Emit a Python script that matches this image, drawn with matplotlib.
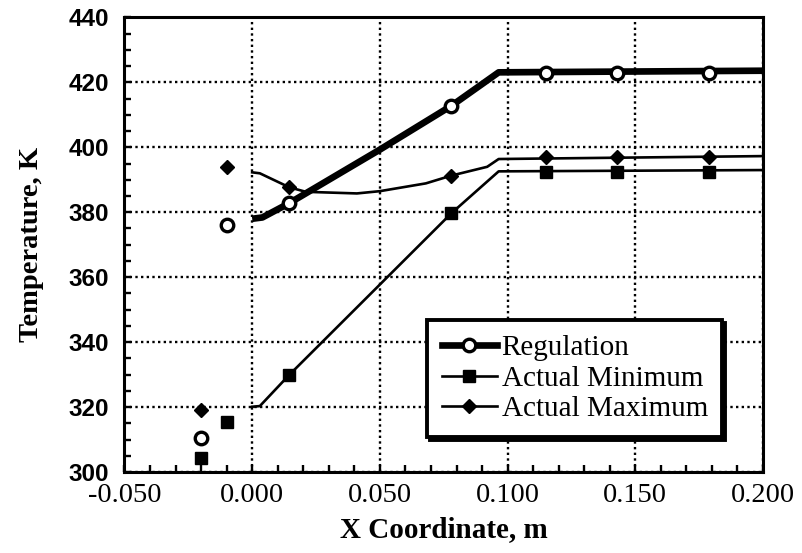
import matplotlib
matplotlib.use("Agg")
import matplotlib.pyplot as plt
from matplotlib.lines import Line2D
from matplotlib.ticker import MultipleLocator, FormatStrFormatter

# Temperature profiles along the X coordinate
reg_x = [0.0, 0.004, 0.0145, 0.050, 0.078, 0.0965, 0.200]
reg_y = [378.0, 378.4, 382.8, 399.3, 412.8, 423.1, 423.6]

min_x = [0.0, 0.003, 0.0145, 0.078, 0.0965, 0.200]
min_y = [320.1, 320.3, 329.9, 379.7, 392.6, 393.0]

max_x = [0.0, 0.003, 0.0145, 0.021, 0.041, 0.050, 0.068, 0.078, 0.092, 0.0965, 0.200]
max_y = [392.3, 392.0, 387.7, 386.3, 385.8, 386.5, 388.9, 391.3, 394.0, 396.4, 397.3]

# Marker positions
mark_x = [-0.020, -0.010, 0.0145, 0.078, 0.115, 0.143, 0.179]
reg_mark_y = [310.5, 376.1, 382.8, 412.8, 423.0, 423.0, 423.0]
min_mark_y = [304.2, 315.3, 329.9, 379.7, 392.4, 392.5, 392.5]
max_mark_y = [319.1, 393.9, 387.7, 391.3, 397.1, 397.1, 397.1]

labels = ["Regulation", "Actual Minimum", "Actual Maximum"]

serif = ["Liberation Serif", "DejaVu Serif"]
sans = ["Liberation Sans", "DejaVu Sans"]

fig = plt.figure(figsize=(8.02, 5.53), dpi=100)
ax = fig.add_axes([0.1552, 0.1465, 0.7962, 0.8219])

ax.set_xlim(-0.05, 0.2)
ax.set_ylim(300, 440)

# grid
ax.xaxis.set_major_locator(MultipleLocator(0.05))
ax.xaxis.set_minor_locator(MultipleLocator(0.01))
ax.yaxis.set_major_locator(MultipleLocator(20))
ax.yaxis.set_minor_locator(MultipleLocator(5))
ax.xaxis.set_major_formatter(FormatStrFormatter("%.3f"))
ax.grid(True, which="major", color="black", linestyle=(0, (1, 1.4)), linewidth=1.7)
ax.set_axisbelow(True)

# curves
ax.plot(reg_x, reg_y, color="black", lw=4.8, solid_capstyle="butt", zorder=3)
ax.plot(min_x, min_y, color="black", lw=1.9, zorder=3)
ax.plot(max_x, max_y, color="black", lw=1.9, zorder=3)

# markers
ax.plot(mark_x, reg_mark_y, ls="none", marker="o", ms=9, mfc="white",
        mec="black", mew=2.4, zorder=4)
ax.plot(mark_x, min_mark_y, ls="none", marker="s", ms=9, mfc="black",
        mec="black", zorder=4)
ax.plot(mark_x, max_mark_y, ls="none", marker="D", ms=7.5, mfc="black",
        mec="black", zorder=4)

for s in ax.spines.values():
    s.set_linewidth(2.2)

ax.tick_params(which="both", direction="in", top=False, right=False,
               width=1.7, color="black")
ax.tick_params(which="major", length=5)
ax.tick_params(which="minor", length=5)
ax.tick_params(axis="y", which="major", pad=11)
ax.tick_params(axis="x", which="major", pad=8)

for t in ax.get_yticklabels():
    t.set_fontfamily(sans)
    t.set_fontweight("bold")
    t.set_fontsize(17.5)
for t in ax.get_xticklabels():
    t.set_fontfamily(serif)
    t.set_fontsize(20.5)

ax.set_xlabel("X Coordinate, m", fontfamily=serif, fontweight="bold",
              fontsize=21, labelpad=6)
ax.set_ylabel("Temperature, K", fontfamily=serif, fontweight="bold",
              fontsize=20.5, labelpad=18)

handles = [
    Line2D([], [], color="black", lw=4.8, marker="o", ms=9, mfc="white",
           mec="black", mew=2.4),
    Line2D([], [], color="black", lw=1.9, marker="s", ms=8, mfc="black"),
    Line2D([], [], color="black", lw=1.9, marker="D", ms=7, mfc="black"),
]
leg = ax.legend(handles, labels, loc="lower left",
                bbox_to_anchor=(0.474, 0.077), prop={"family": serif, "size": 21},
                frameon=True, fancybox=False, framealpha=1, edgecolor="black",
                shadow={"color": "black", "alpha": 1}, handlelength=1.9,
                handletextpad=0.15, labelspacing=0.14, borderpad=0.5,
                borderaxespad=0)
leg.get_frame().set_linewidth(2.8)
leg.set_zorder(6)

fig.savefig("out.png", dpi=100)
